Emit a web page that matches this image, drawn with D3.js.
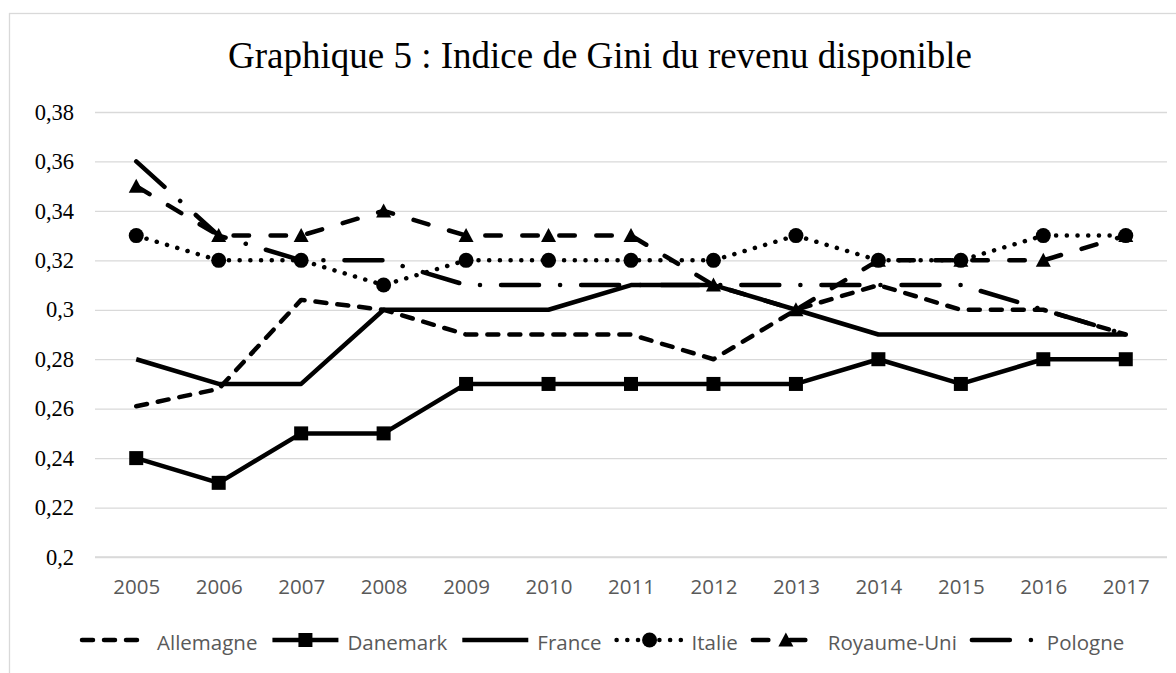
<!DOCTYPE html>
<html><head><meta charset="utf-8">
<script src="https://cdn.jsdelivr.net/npm/d3@7"></script>
<style>html,body{margin:0;padding:0;background:#fff;}svg{display:block;}</style>
</head><body>
<svg id="c" width="1176" height="673"></svg>
<script>
const years = ["2005","2006","2007","2008","2009","2010","2011","2012","2013","2014","2015","2016","2017"];
const yTicks = [0.2,0.22,0.24,0.26,0.28,0.3,0.32,0.34,0.36,0.38];
const yTickLabels = ["0,2","0,22","0,24","0,26","0,28","0,3","0,32","0,34","0,36","0,38"];
const seriesNames = ["Allemagne","Danemark","France","Italie","Royaume-Uni","Pologne"];
const allemagne = [0.261,0.268,0.304,0.30,0.29,0.29,0.29,0.28,0.30,0.31,0.30,0.30,0.29];
const danemark  = [0.24,0.23,0.25,0.25,0.27,0.27,0.27,0.27,0.27,0.28,0.27,0.28,0.28];
const france    = [0.28,0.27,0.27,0.30,0.30,0.30,0.31,0.31,0.30,0.29,0.29,0.29,0.29];
const italie    = [0.33,0.32,0.32,0.31,0.32,0.32,0.32,0.32,0.33,0.32,0.32,0.33,0.33];
const royaumeUni= [0.35,0.33,0.33,0.34,0.33,0.33,0.33,0.31,0.30,0.32,0.32,0.32,0.33];
const pologne   = [0.36,0.33,0.32,0.32,0.31,0.31,0.31,0.31,0.31,0.31,0.31,0.30,0.29];
const title = "Graphique 5 : Indice de Gini du revenu disponible";

const styles = [
  {values: allemagne, dash: "11,11", marker: null},
  {values: danemark, dash: null, marker: "square"},
  {values: france, dash: null, marker: null},
  {values: italie, dash: "0.1,10.6", marker: "circle"},
  {values: royaumeUni, dash: "15.5,21.5", marker: "triangle"},
  {values: pologne, dash: "38,21,0.1,21", marker: null}
];

const svg = d3.select("#c");
const L = 95, R = 1167, T = 112, B = 557;

svg.append("rect").attr("x",9.5).attr("y",13.5).attr("width",1200).attr("height",700)
  .attr("fill","none").attr("stroke","#d9d9d9").attr("stroke-width",1.3);

svg.append("text").attr("x",600).attr("y",68).attr("text-anchor","middle")
  .attr("font-family","'Liberation Serif','Times New Roman',serif").attr("font-size",37)
  .attr("fill","#000").text(title);

const x = d3.scalePoint().domain(years).range([L,R]).padding(0.5);
const y = d3.scaleLinear().domain([0.2,0.38]).range([B,T]);

const yAxis = svg.append("g").attr("transform",`translate(${L},0)`)
  .call(d3.axisLeft(y).tickValues(yTicks).tickFormat((d,i)=>yTickLabels[i])
    .tickSize(-(R-L)).tickPadding(21));
yAxis.select(".domain").remove();
yAxis.selectAll(".tick line").attr("stroke","#d9d9d9").attr("stroke-width",1.3);
yAxis.selectAll(".tick text").attr("font-family","'Liberation Serif','Times New Roman',serif")
  .attr("font-size",22.5).attr("fill","#000");

const xAxis = svg.append("g").attr("transform",`translate(0,${B})`)
  .call(d3.axisBottom(x).tickSize(0).tickPadding(22));
xAxis.select(".domain").attr("stroke","#d9d9d9").attr("stroke-width",1.3)
  .attr("d",`M${L},0H${R}`);
xAxis.selectAll(".tick text").attr("font-family","'Open Sans',sans-serif")
  .attr("font-size",20.5).attr("fill","#595959");

const line = d3.line().x((d,i)=>x(years[i])).y(d=>y(d));

function drawMarker(g, type, cx, cy){
  if(type==="square"){
    g.append("rect").attr("x",cx-7).attr("y",cy-7).attr("width",14).attr("height",14).attr("fill","#000");
  } else if(type==="circle"){
    g.append("circle").attr("cx",cx).attr("cy",cy).attr("r",7.5).attr("fill","#000");
  } else if(type==="triangle"){
    g.append("path").attr("d",`M${cx},${cy-7.5}L${cx+7.5},${cy+6.5}L${cx-7.5},${cy+6.5}Z`).attr("fill","#000");
  }
}

styles.forEach(s=>{
  const g = svg.append("g");
  g.append("path").attr("d",line(s.values)).attr("fill","none").attr("stroke","#000")
    .attr("stroke-width",4.5).attr("stroke-linecap", s.dash ? "round" : "butt")
    .attr("stroke-linejoin","round")
    .attr("stroke-dasharray", s.dash);
  if(s.marker){
    s.values.forEach((v,i)=>drawMarker(g, s.marker, x(years[i]), y(v)));
  }
});

// legend
const lg = svg.append("g");
let lx = 80; const ly = 640;
styles.forEach((s,i)=>{
  const g = lg.append("g");
  g.append("path").attr("d",`M${lx+2},${ly}H${lx+68}`).attr("fill","none").attr("stroke","#000")
    .attr("stroke-width",4.5).attr("stroke-linecap", s.dash ? "round":"butt")
    .attr("stroke-dasharray", s.dash);
  if(s.marker) drawMarker(g, s.marker, lx+35, ly);
  const t = g.append("text").attr("x",lx+77).attr("y",ly+10)
    .attr("font-family","'Open Sans',sans-serif").attr("font-size",20.5).attr("fill","#595959")
    .text(seriesNames[i]);
  lx += 77 + t.node().getComputedTextLength() + 13;
});
</script>
</body></html>
